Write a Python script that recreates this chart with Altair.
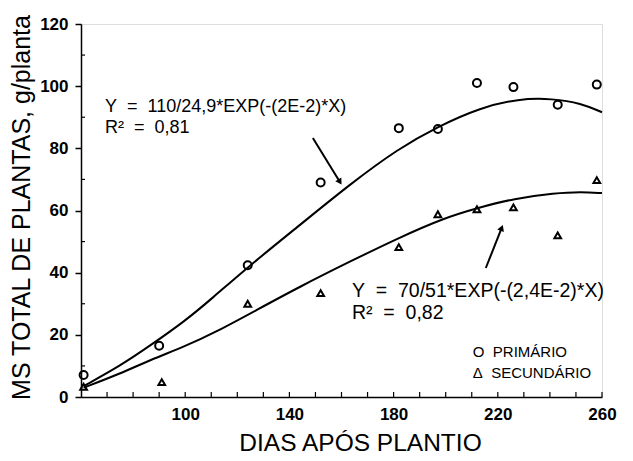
import altair as alt
import pandas as pd

prim_day = [61, 90, 124, 152, 182, 197, 212, 226, 243, 258]
prim_ms = [7.1, 16.5, 42.4, 69.0, 86.5, 86.2, 101.0, 99.7, 94.0, 100.5]
sec_day = [61, 91, 124, 152, 182, 197, 212, 226, 243, 258]
sec_ms = [3.3, 4.8, 30.0, 33.4, 48.2, 58.8, 60.4, 61.0, 52.0, 69.8]

# Fitted curves
fit1_day = [61, 75, 86.5, 100, 110, 124, 144, 163, 182, 197, 213, 228, 241, 252, 260]
fit1_ms = [3.5, 10.0, 16.5, 24.5, 31.5, 41.8, 55.3, 68.3, 80.0, 87.0, 93.0, 96.0, 96.0, 94.5, 91.6]
fit2_day = [61, 75, 86.5, 100, 112, 127, 144, 163, 182, 199, 213, 226, 242, 252, 260]
fit2_ms = [3.0, 7.5, 11.9, 16.3, 21.0, 27.8, 35.5, 43.5, 51.2, 57.5, 61.0, 63.8, 65.6, 66.0, 65.6]

x_ticks = [100, 140, 180, 220, 260]
x_minor = [70, 80, 90, 100, 110, 120, 130, 140, 150, 160, 170, 180, 190, 200, 210, 220, 230, 240, 250, 260]
y_ticks = [0, 20, 40, 60, 80, 100, 120]
y_minor = [10, 30, 50, 70, 90, 110]

labels_text = ["Y\u00a0\u00a0=\u00a0\u00a0110/24,9*EXP(-(2E-2)*X)", "R\u00b2\u00a0\u00a0=\u00a0\u00a00,81",
               "Y\u00a0\u00a0=\u00a0\u00a070/51*EXP(-(2,4E-2)*X)", "R\u00b2\u00a0\u00a0=\u00a0\u00a00,82",
               "O\u00a0\u00a0PRIMÁRIO", "\u0394\u00a0\u00a0SECUNDÁRIO"]
labels_x = [69.2, 69.2, 164.0, 164.0, 210.4, 210.4]
labels_y = [93.4, 86.5, 34.1, 27.0, 14.5, 7.7]
labels_size = [18, 18, 19.5, 19.5, 15, 15]

arrow_x = [149.0, 215.4]
arrow_y = [83.3, 41.5]
arrow_x2 = [159.4, 221.5]
arrow_y2 = [69.2, 54.4]
arrow_angle = [148, 22]

FONT = "Liberation Sans"
xs = alt.Scale(domain=[60, 260], nice=False, zero=False)
ys = alt.Scale(domain=[0, 120], nice=False)

prim = pd.DataFrame({"day": prim_day, "ms": prim_ms})
sec = pd.DataFrame({"day": sec_day, "ms": sec_ms})
fit = pd.concat([
    pd.DataFrame({"day": fit1_day, "ms": fit1_ms, "s": "P"}),
    pd.DataFrame({"day": fit2_day, "ms": fit2_ms, "s": "S"}),
])
labels = pd.DataFrame({"t": labels_text, "x": labels_x, "y": labels_y, "size": labels_size})
arrows = pd.DataFrame({"x": arrow_x, "y": arrow_y, "x2": arrow_x2, "y2": arrow_y2, "a": arrow_angle})

xaxis = alt.Axis(values=x_ticks, ticks=False, labelFontSize=17, labelFont=FONT, labelColor="black",
                 labelFontWeight="bold", labelPadding=9, labelFlush=False, title="DIAS APÓS PLANTIO",
                 titleFont=FONT, titleFontSize=24.5, titleFontWeight="normal", titleColor="black",
                 titlePadding=9, titleX=279, domainColor="black", domainWidth=1.5, grid=False)
yaxis = alt.Axis(values=y_ticks, tickSize=6, tickColor="black", tickWidth=1.5, labelFontSize=17,
                 labelFont=FONT, labelColor="black", labelFontWeight="bold", labelPadding=7,
                 labelFlush=False, title="MS TOTAL DE PLANTAS, g/planta", titleFont=FONT,
                 titleFontSize=25, titleFontWeight="normal", titleColor="black", titlePadding=5,
                 titleY=183, domainColor="black", domainWidth=1.5, grid=False)

base_x = alt.X("day:Q", scale=xs, axis=xaxis)
base_y = alt.Y("ms:Q", scale=ys, axis=yaxis)

lines = alt.Chart(fit).mark_line(color="black", strokeWidth=2, interpolate="basis").encode(
    x=base_x, y=base_y, detail="s:N")
circ = alt.Chart(prim).mark_point(shape="circle", size=64, color="black", strokeWidth=2, filled=False,
                                  opacity=1).encode(x="day:Q", y="ms:Q")
tri = alt.Chart(sec).mark_point(shape="triangle-up", size=45, color="black", strokeWidth=2, filled=False,
                                opacity=1).encode(x="day:Q", y="ms:Q")

xt = pd.DataFrame({"v": x_minor})
xtick = alt.Chart(xt).mark_rule(color="black", strokeWidth=1.2).encode(
    x=alt.X("v:Q", scale=xs), y=alt.value(373), y2=alt.value(368))
yt = pd.DataFrame({"v": y_minor})
ytick = alt.Chart(yt).mark_rule(color="black", strokeWidth=1.2).encode(
    y=alt.Y("v:Q", scale=ys), x=alt.value(0), x2=alt.value(4))

txt = alt.Chart(labels).mark_text(align="left", baseline="middle", font=FONT, color="black").encode(
    x=alt.X("x:Q", scale=xs), y=alt.Y("y:Q", scale=ys), text="t:N",
    size=alt.Size("size:Q", scale=None, legend=None))

arr = alt.Chart(arrows).mark_rule(color="black", strokeWidth=2).encode(
    x=alt.X("x:Q", scale=xs), y=alt.Y("y:Q", scale=ys), x2="x2:Q", y2="y2:Q")
head = alt.Chart(arrows).mark_point(shape="triangle-up", filled=True, color="black", size=50, opacity=1).encode(
    x=alt.X("x2:Q", scale=xs), y=alt.Y("y2:Q", scale=ys), angle=alt.Angle("a:Q", scale=None))

chart = alt.layer(lines, circ, tri, xtick, ytick, arr, head, txt).properties(
    width=521, height=373,
    autosize=alt.AutoSizeParams(type="none"),
    padding={"left": 73, "top": 16, "right": 20, "bottom": 64},
).configure_view(stroke=None).configure(background="white")

chart.save("out.html", embed_options={"renderer": "svg", "actions": False})
